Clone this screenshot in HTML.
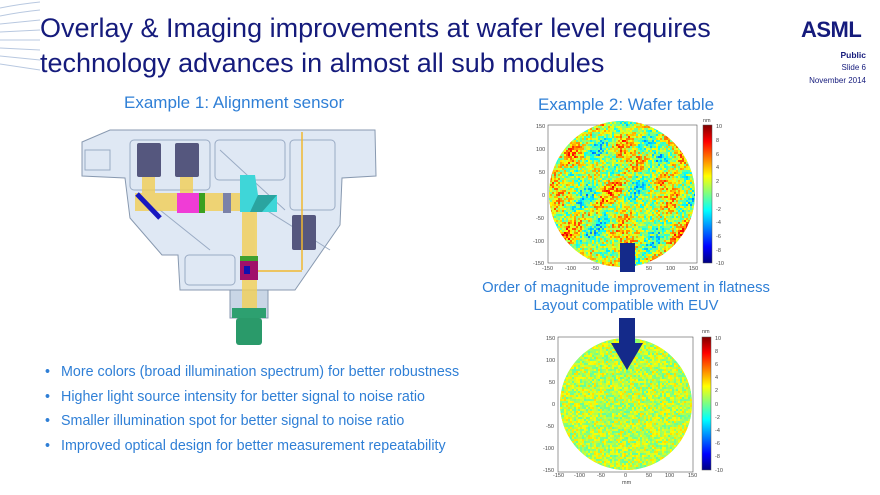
<!DOCTYPE html>
<html><head><meta charset="utf-8"><style>
body{margin:0;width:880px;height:495px;overflow:hidden;background:#fff;font-family:"Liberation Sans",Arial,sans-serif;position:relative}
.abs{position:absolute;white-space:nowrap}
.title{left:40px;color:#151b7c;font-size:27px;line-height:35px;top:11px}
.h{color:#2f7fd6;font-size:17px}
.bl{left:45px;color:#2f7fd6;font-size:14.3px}
.bl span{position:absolute;left:16px}
</style></head><body>
<svg class="abs" style="left:0;top:0" width="40" height="80">
<g stroke="#b8c8e0" stroke-width="1" fill="none">
<path d="M0 8 Q20 4 40 2"/><path d="M0 16 Q20 12 40 10"/><path d="M0 24 Q20 22 40 20"/><path d="M0 32 Q20 31 40 30"/><path d="M0 40 Q20 40 40 40"/><path d="M0 48 Q20 49 40 50"/><path d="M0 56 Q20 58 40 60"/><path d="M0 64 Q20 67 40 70"/>
</g></svg>
<div class="abs title">Overlay &amp; Imaging improvements at wafer level requires<br>technology advances in almost all sub modules</div>
<div class="abs" style="left:801px;top:17px;font-size:22px;font-weight:bold;color:#151b7c;letter-spacing:-0.5px">ASML</div>
<div class="abs" style="right:14px;top:50px;font-size:8.5px;font-weight:bold;color:#151b7c;text-align:right">Public</div>
<div class="abs" style="right:14px;top:63px;font-size:8px;color:#151b7c">Slide 6</div>
<div class="abs" style="right:14px;top:76px;font-size:8px;color:#151b7c">November 2014</div>

<div class="abs h" style="left:124px;top:93px">Example 1: Alignment sensor</div>
<div class="abs h" style="left:538px;top:95px">Example 2: Wafer table</div>

<svg class="abs" style="left:0;top:0" width="420" height="360">
<polygon points="82,142 110,130 375,130 376,176 342,178 340,225 295,290 180,290 178,255 162,255 130,218 125,178 82,176" fill="#dfe8f4" stroke="#8899b0" stroke-width="1"/>
<g fill="none" stroke="#9aabc4" stroke-width="1">
<rect x="130" y="140" width="80" height="50" rx="4"/><rect x="215" y="140" width="70" height="40" rx="4"/><rect x="290" y="140" width="45" height="70" rx="4"/>
<path d="M220 150 L285 210 M160 210 L210 250 M250 200 L330 250"/><rect x="185" y="255" width="50" height="30" rx="4"/><rect x="85" y="150" width="25" height="20"/>
</g>
<rect x="230" y="290" width="38" height="28" fill="#c9d6e6" stroke="#8899b0"/>
<g fill="#f2cf55" opacity="0.8">
<rect x="142" y="150" width="13" height="50"/><rect x="180" y="150" width="13" height="50"/>
<rect x="135" y="193" width="110" height="18"/><rect x="242" y="205" width="15" height="110"/>
</g>
<g fill="#55577e">
<rect x="137" y="143" width="24" height="34" rx="2"/><rect x="175" y="143" width="24" height="34" rx="2"/><rect x="292" y="215" width="24" height="35" rx="2"/>
</g>
<line x1="137" y1="194" x2="160" y2="218" stroke="#1818c0" stroke-width="5"/>
<rect x="177" y="193" width="22" height="20" fill="#f03cd6"/><rect x="199" y="193" width="6" height="20" fill="#3aa020"/>
<rect x="223" y="193" width="8" height="20" fill="#7b82a8"/>
<polygon points="240,175 255,175 258,195 277,195 277,212 240,212" fill="#3fd6d8"/><polygon points="258,195 277,195 262,212 250,212" fill="#2aa4a0"/>
<line x1="302" y1="132" x2="302" y2="270" stroke="#f0b830" stroke-width="1.5"/><line x1="258" y1="271" x2="302" y2="271" stroke="#f0b830" stroke-width="1.5"/>
<rect x="240" y="256" width="18" height="5" fill="#40a030"/><rect x="240" y="261" width="18" height="19" fill="#a0106a"/><rect x="244" y="266" width="6" height="8" fill="#1010b0"/>
<rect x="232" y="308" width="34" height="10" fill="#2da070"/><rect x="236" y="318" width="26" height="27" rx="3" fill="#2a9a6a"/>
</svg>

<div class="abs bl" style="top:364px">•<span>More colors (broad illumination spectrum) for better robustness</span></div>
<div class="abs bl" style="top:389px">•<span>Higher light source intensity for better signal to noise ratio</span></div>
<div class="abs bl" style="top:413px">•<span>Smaller illumination spot for better signal to noise ratio</span></div>
<div class="abs bl" style="top:438px">•<span>Improved optical design for better measurement repeatability</span></div>

<svg class="abs" style="left:0;top:0" width="880" height="495">
<defs><linearGradient id="jet" x1="0" y1="0" x2="0" y2="1">
<stop offset="0" stop-color="#800000"/><stop offset="0.12" stop-color="#ff0000"/><stop offset="0.37" stop-color="#ffff00"/><stop offset="0.62" stop-color="#00ffff"/><stop offset="0.88" stop-color="#0000ff"/><stop offset="1" stop-color="#000080"/></linearGradient>
<clipPath id="c1"><circle cx="622" cy="194" r="73"/></clipPath><clipPath id="c2"><circle cx="626" cy="404" r="66"/></clipPath></defs>
<rect x="548" y="125" width="149" height="138" fill="#fff" stroke="#555" stroke-width="0.6"/>
<rect x="558" y="337" width="135" height="135" fill="#fff" stroke="#555" stroke-width="0.6"/>
<g id="m1" clip-path="url(#c1)"><rect x="540" y="120" width="160" height="150" fill="#9ee06a"/></g>
<g id="m2" clip-path="url(#c2)"><rect x="555" y="335" width="140" height="140" fill="#8fe07e"/></g>
<rect x="703" y="125" width="9" height="138" fill="url(#jet)" stroke="#555" stroke-width="0.5"/>
<rect x="702" y="337" width="9" height="133" fill="url(#jet)" stroke="#555" stroke-width="0.5"/>
<g font-size="5.5" fill="#444" font-family="Liberation Sans">
<text x="536" y="128">150</text><text x="536" y="151">100</text><text x="539" y="174">50</text><text x="542" y="197">0</text><text x="536" y="220">-50</text><text x="533" y="243">-100</text><text x="533" y="265">-150</text>
<text x="542" y="270">-150</text><text x="565" y="270">-100</text><text x="591" y="270">-50</text><text x="646" y="270">50</text><text x="666" y="270">100</text><text x="689" y="270">150</text>
<text x="716" y="128">10</text><text x="716" y="142">8</text><text x="716" y="156">6</text><text x="716" y="169">4</text><text x="716" y="183">2</text><text x="716" y="197">0</text><text x="716" y="211">-2</text><text x="716" y="224">-4</text><text x="716" y="238">-6</text><text x="716" y="252">-8</text><text x="716" y="265">-10</text>
<text x="703" y="122">nm</text>
<text x="546" y="340">150</text><text x="546" y="362">100</text><text x="549" y="384">50</text><text x="552" y="406">0</text><text x="546" y="428">-50</text><text x="543" y="450">-100</text><text x="543" y="472">-150</text>
<text x="553" y="477">-150</text><text x="574" y="477">-100</text><text x="597" y="477">-50</text><text x="624" y="477">0</text><text x="646" y="477">50</text><text x="665" y="477">100</text><text x="688" y="477">150</text>
<text x="622" y="484">mm</text><text x="702" y="333">nm</text>
<text x="715" y="340">10</text><text x="715" y="353">8</text><text x="715" y="366">6</text><text x="715" y="379">4</text><text x="715" y="392">2</text><text x="715" y="406">0</text><text x="715" y="419">-2</text><text x="715" y="432">-4</text><text x="715" y="445">-6</text><text x="715" y="458">-8</text><text x="715" y="472">-10</text>
</g>
<rect x="620" y="243" width="15" height="29" fill="#142a8a"/>
<polygon points="619,318 635,318 635,343 643,343 627,370 611,343 619,343" fill="#142a8a"/>
</svg>
<div class="abs h" style="left:0;width:1252px;text-align:center;top:279px;font-size:14.8px;line-height:18px">Order of magnitude improvement in flatness<br>Layout compatible with EUV</div>
<script>
(function(){
var ns="http://www.w3.org/2000/svg";
function jet(v){v=Math.max(0,Math.min(1,v));var r=Math.min(1,Math.max(0,1.5-Math.abs(4*v-3))),g=Math.min(1,Math.max(0,1.5-Math.abs(4*v-2))),b=Math.min(1,Math.max(0,1.5-Math.abs(4*v-1)));return "rgb("+(r*255|0)+","+(g*255|0)+","+(b*255|0)+")";}
var s=7;function rnd(){s=(s*16807)%2147483647;return s/2147483647;}
function fill(id,x0,y0,w,h,amp,st){var g=document.getElementById(id);
for(var y=y0;y<y0+h;y+=st)for(var x=x0;x<x0+w;x+=st){
var v=0.56+(rnd()-0.5)*amp;
if(id=="m1"){v+=0.14*Math.sin((x-560)/9+Math.sin(y/17))*Math.sin((y-130)/13)+0.06*Math.sin((x+y)/6);}
var r=document.createElementNS(ns,"rect");r.setAttribute("x",x);r.setAttribute("y",y);r.setAttribute("width",st);r.setAttribute("height",st);r.setAttribute("fill",jet(v));g.appendChild(r);}}
fill("m1",548,120,150,148,0.32,2);
fill("m2",558,337,136,136,0.2,2);
})();
</script>
</body></html>
